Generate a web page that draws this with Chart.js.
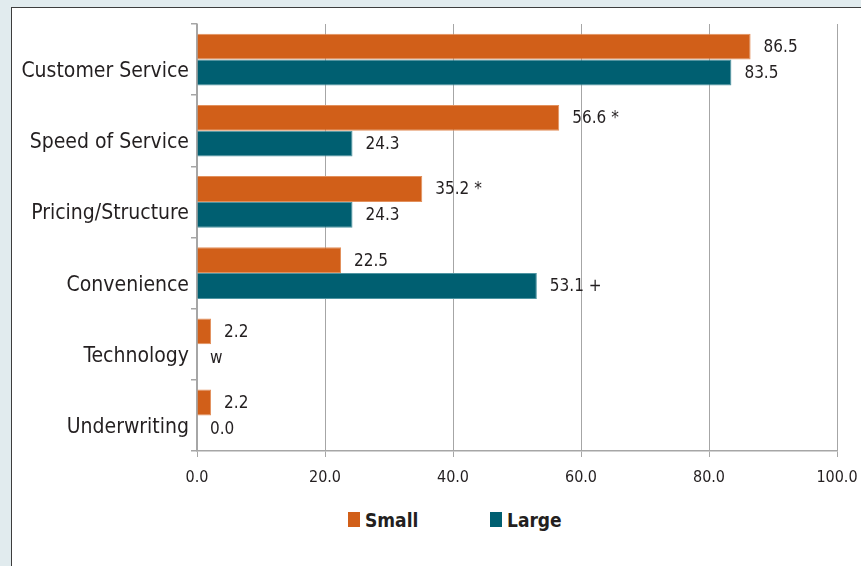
<!DOCTYPE html>
<html>
<head>
<meta charset="utf-8">
<script src="https://cdn.jsdelivr.net/npm/chart.js@4.4.1/dist/chart.umd.min.js"></script>
<style>
  html, body { margin: 0; padding: 0; width: 861px; height: 566px; overflow: hidden; background: #e1ebee; }
  #panel { position: absolute; left: 11px; top: 7px; width: 920px; height: 620px; background: #fff;
           border-left: 1px solid #3d3d3d; border-top: 1px solid #3d3d3d; }
  #wrap { position: absolute; left: 0; top: 0; width: 880px; height: 480px; }
  #legend { position: absolute; left: 336px; top: 503px; white-space: nowrap;
            font: bold 19px "DejaVu Sans Condensed", "Liberation Sans", sans-serif;
            color: #231f20; line-height: 19px; }
  #legend .item { display: inline-block; width: 142px; }
  #legend .box { display: inline-block; width: 12px; height: 15px; margin-right: 5px; vertical-align: baseline; }
</style>
</head>
<body>
<div id="panel">
  <div id="wrap"><canvas id="chart"></canvas></div>
  <div id="legend"></div>
</div>
<script>
// data
const categories = ['Customer Service', 'Speed of Service', 'Pricing/Structure', 'Convenience', 'Technology', 'Underwriting'];
const smallValues = [86.5, 56.6, 35.2, 22.5, 2.2, 2.2];
const largeValues = [83.5, 24.3, 24.3, 53.1, null, 0.0];
const smallText = ['86.5', '56.6 *', '35.2 *', '22.5', '2.2', '2.2'];
const largeText = ['83.5', '24.3', '24.3', '53.1 +', 'w', '0.0'];
const xTicks = [0, 20, 40, 60, 80, 100];

const FONT = '"DejaVu Sans Condensed", "Liberation Sans", sans-serif';
const ORANGE = '#d15f19';
const TEAL = '#005f71';
const INK = '#231f20';

// writes the value next to the end of each bar
const valueLabels = {
  id: 'valueLabels',
  afterDatasetsDraw(chart) {
    const ctx = chart.ctx;
    const xs = chart.scales.x;
    ctx.save();
    ctx.font = '17px ' + FONT;
    ctx.fillStyle = INK;
    ctx.textBaseline = 'middle';
    ctx.textAlign = 'left';
    chart.data.datasets.forEach((ds, di) => {
      const meta = chart.getDatasetMeta(di);
      meta.data.forEach((bar, i) => {
        const v = ds.data[i];
        const x = xs.getPixelForValue(v == null ? 0 : v) + 13;
        ctx.fillText(ds.valueText[i], x, bar.y + 1);
      });
    });
    ctx.restore();
  }
};

const datasets = [
  { label: 'Small', data: smallValues, valueText: smallText, backgroundColor: ORANGE,
    borderColor: '#e2905c', borderWidth: 1 },
  { label: 'Large', data: largeValues, valueText: largeText, backgroundColor: TEAL,
    borderColor: '#4f95a2', borderWidth: 1 }
];

new Chart(document.getElementById('chart'), {
  type: 'bar',
  data: { labels: categories, datasets: datasets },
  options: {
    indexAxis: 'y',
    responsive: true,
    maintainAspectRatio: false,
    animation: false,
    datasets: { bar: { categoryPercentage: 0.727, barPercentage: 1.0 } },
    layout: { padding: { top: 16, right: 55, left: 0, bottom: 0 } },
    scales: {
      x: {
        min: 0, max: 100,
        afterFit: s => { s.height = 37; },
        afterBuildTicks: s => { s.ticks = xTicks.map(v => ({ value: v })); },
        ticks: { color: INK, font: { family: FONT, size: 16 }, padding: 11, callback: v => v.toFixed(1) },
        grid: { color: '#a6a6a6', lineWidth: 1, tickLength: 6 },
        border: { color: '#a6a6a6', width: 1.5 }
      },
      y: {
        afterFit: s => { s.width = 185; },
        ticks: { color: INK, font: { family: FONT, size: 21 }, padding: 2, labelOffset: 12 },
        grid: { drawOnChartArea: false, color: '#a6a6a6', lineWidth: 1.5, tickLength: 6, offset: true },
        border: { color: '#a6a6a6', width: 1.5 }
      }
    },
    plugins: {
      legend: { display: false },
      tooltip: { enabled: false }
    }
  },
  plugins: [valueLabels]
});

// legend below the chart
const legend = document.getElementById('legend');
datasets.forEach(ds => {
  const item = document.createElement('span');
  item.className = 'item';
  const box = document.createElement('span');
  box.className = 'box';
  box.style.background = ds.backgroundColor;
  item.appendChild(box);
  item.appendChild(document.createTextNode(ds.label));
  legend.appendChild(item);
});
</script>
</body>
</html>
